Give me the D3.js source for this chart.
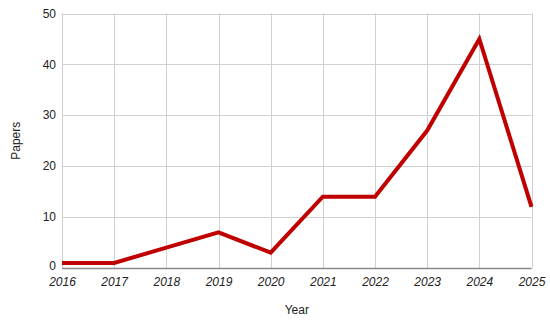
<!DOCTYPE html>
<html>
  <head>
    <style>
      body { margin: 0; background: #fff; overflow: hidden; }
      svg { font-family: "Liberation Sans", Arial, sans-serif; }
      .grid line { stroke: #d0d0d0; stroke-width: 1px; }
      .tick text { fill: #222; font-size: 12px; }
      .xaxis .tick text { font-style: italic; }
    </style>
  </head>
  <body>
    <svg width="550" height="321"></svg>
    <script src="https://d3js.org/d3.v7.min.js"></script>
    <script>
      const years = [2016, 2017, 2018, 2019, 2020, 2021, 2022, 2023, 2024, 2025];
      const papers = [1, 1, 4, 7, 3, 14, 14, 27, 45, 12];
      const yTicks = [0, 10, 20, 30, 40, 50];

      const svg = d3.select('svg');
      const plotLeft = 62, plotRight = 531.5, plotTop = 13.5, plotBottom = 268;

      const x = d3.scaleLinear().domain([2016, 2025]).range([plotLeft, plotRight]);
      const y = d3.scaleLinear().domain([0, 50]).range([plotBottom, plotTop]);

      // gridlines
      const grid = svg.append('g').attr('class', 'grid');
      grid.selectAll('line.h')
        .data(yTicks)
        .enter()
        .append('line')
        .attr('class', 'h')
        .attr('x1', plotLeft).attr('x2', plotRight)
        .attr('y1', d => Math.round(y(d)) + 0.5)
        .attr('y2', d => Math.round(y(d)) + 0.5);
      grid.selectAll('line.v')
        .data(years)
        .enter()
        .append('line')
        .attr('class', 'v')
        .attr('y1', plotTop).attr('y2', plotBottom)
        .attr('x1', d => Math.round(x(d)) + 0.5)
        .attr('x2', d => Math.round(x(d)) + 0.5);

      // baseline
      svg.append('line')
        .attr('x1', plotLeft).attr('x2', plotRight)
        .attr('y1', Math.round(y(0)) + 0.5).attr('y2', Math.round(y(0)) + 0.5)
        .attr('stroke', '#888').attr('stroke-width', 1.5);

      // y axis labels
      const yAxis = svg.append('g')
        .attr('transform', 'translate(' + plotLeft + ',0)')
        .call(d3.axisLeft(y).tickValues(yTicks).tickSize(0).tickPadding(6));
      yAxis.select('.domain').remove();
      yAxis.selectAll('.tick text').attr('dy', d => d === 0 ? '0.15em' : '0.3em');

      // x axis labels
      const xAxis = svg.append('g')
        .attr('class', 'xaxis')
        .attr('transform', 'translate(0,' + plotBottom + ')')
        .call(d3.axisBottom(x).tickValues(years).tickFormat(d3.format('d')).tickSize(0).tickPadding(9));
      xAxis.select('.domain').remove();

      // line
      const line = d3.line()
        .x((d, i) => x(years[i]))
        .y(d => y(d));
      svg.append('path')
        .datum(papers)
        .attr('d', line)
        .attr('fill', 'none')
        .attr('stroke', '#c00000')
        .attr('stroke-width', 4)
        .attr('stroke-linejoin', 'miter');

      // titles
      svg.append('text')
        .attr('x', (plotLeft + plotRight) / 2)
        .attr('y', 314)
        .attr('text-anchor', 'middle')
        .attr('font-size', 12)
        .attr('fill', '#222')
        .text('Year');
      svg.append('text')
        .attr('transform', 'translate(20,' + (plotTop + plotBottom) / 2 + ') rotate(-90)')
        .attr('text-anchor', 'middle')
        .attr('font-size', 12)
        .attr('fill', '#222')
        .text('Papers');
    </script>
  </body>
</html>
